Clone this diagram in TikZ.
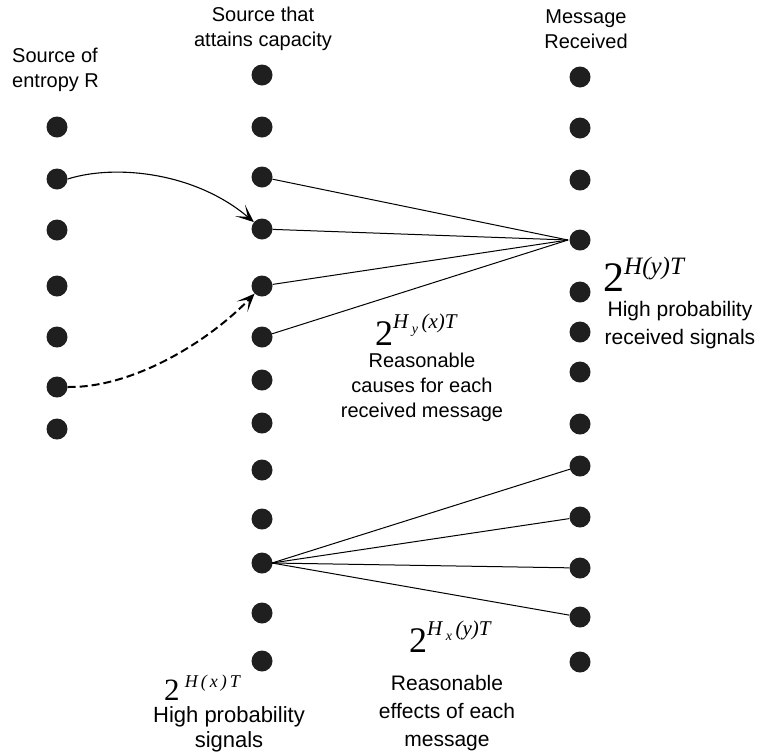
\documentclass[tikz,border=0pt]{standalone}
\usepackage{fontspec}
\setmainfont{Liberation Sans}
\newfontfamily\tms{Liberation Serif}
\usetikzlibrary{arrows.meta,calc}
\begin{document}
\begin{tikzpicture}[x=1pt,y=-1pt,
  blob/.style={circle, fill=black!88, inner sep=0pt, minimum size=21pt},
  fanline/.style={line width=1pt, black},
  lbl/.style={inner sep=0pt, align=center, font=\fontsize{20}{25}\selectfont},
  lblb/.style={inner sep=0pt, align=center, font=\fontsize{21}{28}\selectfont},
  curvearrow/.style={line width=1.1pt, -{Stealth[length=18pt,width=15pt,inset=10pt]}},
  dasharrow/.style={line width=2pt, dash pattern=on 8pt off 4pt, -{Stealth[length=18pt,width=15pt,inset=10pt]}}
]
\useasboundingbox (0,0) rectangle (760,753);
\fill[white] (0,0) rectangle (760,753);

% columns of dots
\foreach \yy [count=\i] in {127,179,230,286,337,387,429}
  \node[blob] (r\i) at (57,\yy) {};
\foreach \yy [count=\i] in {75,127,177,229,286,337,380,423,470,519,563,613,661}
  \node[blob] (s\i) at (262,\yy) {};
\foreach \yy [count=\i] in {77,128,180,240,292,332,372,424,466,517,568,617,662}
  \node[blob] (m\i) at (580,\yy) {};

% upper fan
\coordinate (f1) at ($(m4.center)+(-12,0)$);
\foreach \i in {3,4,5,6}
  \draw[fanline] (s\i) -- (f1);

% lower fan
\coordinate (f2) at ($(s11.center)+(10,0)$);
\foreach \i in {9,10,11,12}
  \draw[fanline] (f2) -- (m\i);

% curved arrows
\draw[curvearrow] (r2.east) .. controls (115,164) and (195,172) .. (s4);
\draw[dasharrow] (r6.east) .. controls (130,388) and (205,345) .. (s5);

% labels
\node[lbl, align=left, anchor=west] (lr) at (12,70) {Source of\\entropy R};
\node[lbl] (ls) at (263,29) {Source that\\attains capacity};
\node[lbl] (lm) at (586,29) {Message\\Received};

\node[anchor=base west, inner sep=0pt] (ey) at (603,291)
  {\tms\fontsize{42}{42}\selectfont 2\raisebox{17pt}{\fontsize{25}{25}\selectfont\itshape H(y)T}};
\node[lblb] (ty) at (680,325) {High probability\\received signals};

\node[anchor=base west, inner sep=0pt] (ecy) at (375,345)
  {\tms\fontsize{36}{36}\selectfont 2\raisebox{17pt}{\fontsize{21}{21}\selectfont\itshape H\,\raisebox{-5pt}{\fontsize{14}{14}\selectfont y}\,(x)T}};
\node[lbl] (tcy) at (422,387) {Reasonable\\causes for each\\received message};

\node[anchor=base west, inner sep=0pt] (exy) at (409,652)
  {\tms\fontsize{36}{36}\selectfont 2\raisebox{17pt}{\fontsize{21}{21}\selectfont\itshape H\,\raisebox{-5pt}{\fontsize{14}{14}\selectfont x}\,(y)T}};
\node[lblb] (txy) at (447,713) {Reasonable\\effects of each\\message};

\node[anchor=base west, inner sep=0pt] (ex) at (164,700)
  {\tms\fontsize{31}{31}\selectfont 2\,\raisebox{13pt}{\fontsize{18}{18}\selectfont\itshape H\,(\,x\,)\,T}};
\node[lblb, font=\fontsize{22}{25}\selectfont] (tx) at (229,729) {High probability\\signals};
\end{tikzpicture}
\end{document}
